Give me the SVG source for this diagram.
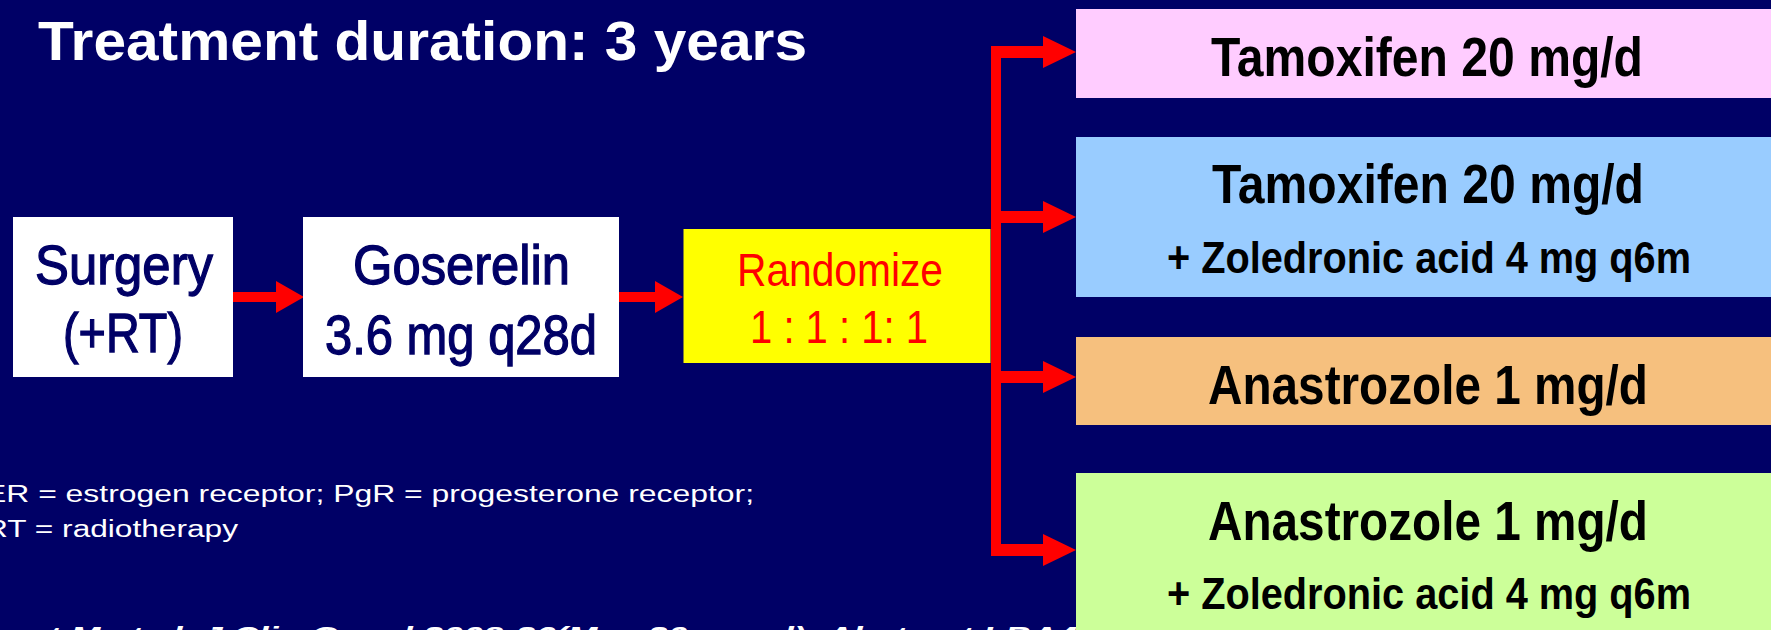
<svg xmlns="http://www.w3.org/2000/svg" width="1771" height="630" viewBox="0 0 1771 630">
<style>
.bg{fill:#000066}
.t{font-family:"Liberation Sans",Arial,sans-serif}
.title{font-size:56px;font-weight:bold;fill:#ffffff}
.nav{font-size:56px;fill:#000066;stroke:#000066;stroke-width:1.3px}
.rnd{font-size:46px;fill:#ff0000}
.arm{font-size:56px;font-weight:bold;fill:#000000}
.sub{font-size:44px;font-weight:bold;fill:#000000}
.leg{font-size:23px;fill:#ffffff}
.cit{font-size:24px;font-weight:bold;font-style:italic;fill:#ffffff}
.conn{fill:none;stroke:#ff0000}
</style>
<defs>
<marker id="hR" viewBox="0 0 33 32" refX="0" refY="16" markerWidth="33" markerHeight="32" markerUnits="userSpaceOnUse" orient="auto"><path d="M0,0 L33,16 L0,32 Z" fill="#ff0000"/></marker>
<marker id="hL" viewBox="0 0 28 32" refX="0" refY="16" markerWidth="28" markerHeight="32" markerUnits="userSpaceOnUse" orient="auto"><path d="M0,0 L28,16 L0,32 Z" fill="#ff0000"/></marker>
</defs>
<rect class="bg" x="0" y="0" width="1771" height="630"/>
<text class="t title" x="38" y="60" textLength="769" lengthAdjust="spacingAndGlyphs">Treatment duration: 3 years</text>
<g id="legend">
<text class="t leg" x="-15" y="502" textLength="769" lengthAdjust="spacingAndGlyphs">ER = estrogen receptor; PgR = progesterone receptor;</text>
<text class="t leg" x="-15" y="537" textLength="253" lengthAdjust="spacingAndGlyphs">RT = radiotherapy</text>
</g>
<text class="t cit" x="-44" y="644" textLength="1121" lengthAdjust="spacingAndGlyphs">Gnant M et al. J Clin Oncol 2008;26(May 20 suppl): Abstract LBA4</text>
<g id="connectors">
<path class="conn" stroke-width="10" d="M233,297 H276" marker-end="url(#hL)"/>
<path class="conn" stroke-width="10" d="M619,297 H655" marker-end="url(#hL)"/>
<path class="conn" stroke-width="10" d="M996,46 V556"/>
<path class="conn" stroke-width="12" d="M991,52 H1043" marker-end="url(#hR)"/>
<path class="conn" stroke-width="12" d="M991,217 H1043" marker-end="url(#hR)"/>
<path class="conn" stroke-width="12" d="M991,377 H1043" marker-end="url(#hR)"/>
<path class="conn" stroke-width="12" d="M991,550 H1043" marker-end="url(#hR)"/>
</g>
<g id="surgery">
<rect x="13" y="217" width="220" height="160" fill="#ffffff"/>
<text class="t nav" x="35" y="284" textLength="178" lengthAdjust="spacingAndGlyphs">Surgery</text>
<text class="t nav" x="63" y="352" textLength="120" lengthAdjust="spacingAndGlyphs">(+RT)</text>
</g>
<g id="goserelin">
<rect x="303" y="217" width="316" height="160" fill="#ffffff"/>
<text class="t nav" x="353" y="283.5" textLength="217" lengthAdjust="spacingAndGlyphs">Goserelin</text>
<text class="t nav" x="325" y="354" textLength="272" lengthAdjust="spacingAndGlyphs">3.6 mg q28d</text>
</g>
<g id="randomize">
<rect x="683.5" y="229" width="307" height="134" fill="#ffff00"/>
<text class="t rnd" x="737" y="286" textLength="206" lengthAdjust="spacingAndGlyphs">Randomize</text>
<text class="t rnd" x="750" y="343" textLength="178" lengthAdjust="spacingAndGlyphs">1 : 1 : 1: 1</text>
</g>
<g id="arm-tamoxifen">
<rect x="1076" y="9" width="695" height="89" fill="#ffccff"/>
<text class="t arm" x="1211" y="75.5" textLength="432" lengthAdjust="spacingAndGlyphs">Tamoxifen 20 mg/d</text>
</g>
<g id="arm-tamoxifen-zol">
<rect x="1076" y="137" width="695" height="160" fill="#99ccff"/>
<text class="t arm" x="1212" y="203" textLength="432" lengthAdjust="spacingAndGlyphs">Tamoxifen 20 mg/d</text>
<text class="t sub" x="1167" y="273" textLength="524" lengthAdjust="spacingAndGlyphs">+ Zoledronic acid 4 mg q6m</text>
</g>
<g id="arm-anastrozole">
<rect x="1076" y="337" width="695" height="88" fill="#f6c07e"/>
<text class="t arm" x="1208" y="404" textLength="440" lengthAdjust="spacingAndGlyphs">Anastrozole 1 mg/d</text>
</g>
<g id="arm-anastrozole-zol">
<rect x="1076" y="473" width="695" height="157" fill="#ccff99"/>
<text class="t arm" x="1208" y="540" textLength="440" lengthAdjust="spacingAndGlyphs">Anastrozole 1 mg/d</text>
<text class="t sub" x="1167" y="609" textLength="524" lengthAdjust="spacingAndGlyphs">+ Zoledronic acid 4 mg q6m</text>
</g>
</svg>
